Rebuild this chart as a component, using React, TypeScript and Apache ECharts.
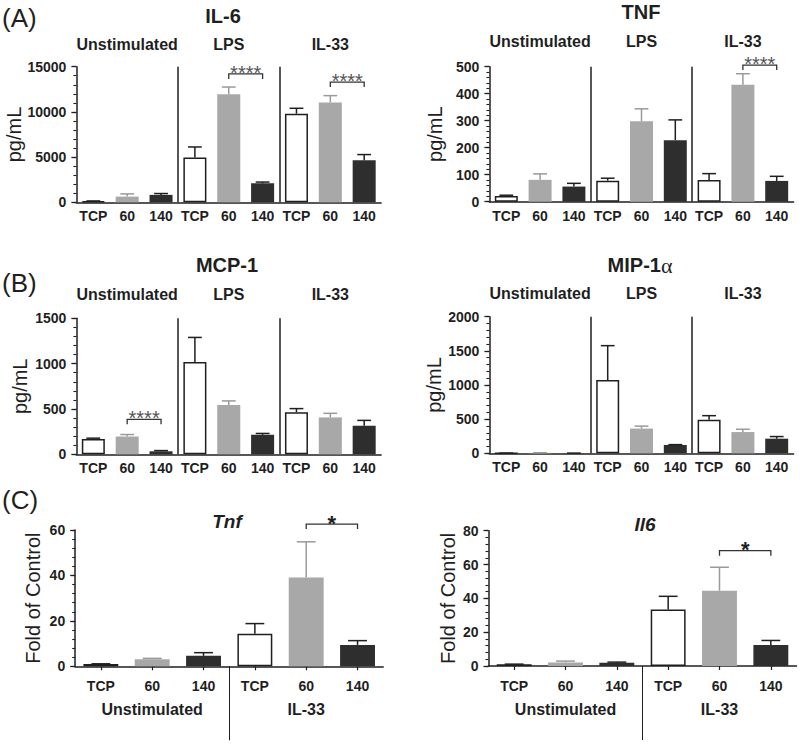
import React, { useEffect, useRef } from 'react';
import * as echarts from 'echarts';

const FONT = "'Liberation Sans', Arial, Helvetica, sans-serif";
const INK = '#1f1f1f';
const GREY = '#a8a8a8';
const BLACK = '#2e2e2e';

// ---------- categories / tick labels ----------
const barCategories = ['TCP', '60', '140', 'TCP', '60', '140', 'TCP', '60', '140'];
const stimGroups = ['Unstimulated', 'LPS', 'IL-33'];
const geneCategories = ['TCP', '60', '140', 'TCP', '60', '140'];
const geneGroups = ['Unstimulated', 'IL-33'];

// ---------- (A) cytokines, pg/mL : mean and mean+SD ----------
const il6Mean = [100, 630, 820, 4960, 11950, 2100, 9800, 11050, 4660];
const il6Err = [150, 930, 970, 6120, 12750, 2240, 10400, 11800, 5280];
const tnfMean = [21, 81, 56, 78, 298, 228, 80, 433, 77];
const tnfErr = [24, 103, 68, 87, 344, 303, 104, 474, 94];

// ---------- (B) chemokines, pg/mL ----------
const mcp1Mean = [170, 196, 33, 1019, 544, 215, 463, 407, 315];
const mcp1Err = [178, 218, 41, 1289, 589, 230, 504, 452, 374];
const mip1aMean = [2, 6, 2, 1073, 362, 122, 490, 311, 214];
const mip1aErr = [3, 8, 3, 1576, 398, 127, 551, 352, 245];

// ---------- (C) gene expression, fold of control ----------
const tnfGeneMean = [1.0, 3.1, 4.6, 14.3, 39.1, 9.4];
const tnfGeneErr = [1.1, 3.5, 6.0, 18.8, 54.8, 11.3];
const il6GeneMean = [1.0, 2.1, 1.9, 33.4, 44.5, 12.4];
const il6GeneErr = [1.1, 2.9, 2.3, 41.2, 58.4, 15.1];

// ---------- significance brackets: [from index, to index, height] ----------
const il6Sig = [[4, 5, 14200], [7, 8, 13300]];
const il6SigText = ['****', '****'];
const tnfSig = [[7, 8, 506]];
const tnfSigText = ['****'];
const mcp1Sig = [[1, 2, 386]];
const mcp1SigText = ['****'];
const mip1aSig: number[][] = [];
const mip1aSigText: string[] = [];
const tnfGeneSig = [[4, 5, 62.6]];
const tnfGeneSigText = ['*'];
const il6GeneSig = [[4, 5, 68.2]];
const il6GeneSigText = ['*'];

type Panel = {
  cats: string[];
  groups: string[];
  mean: number[];
  err: number[];
  sig: number[][];
  sigText: string[];
  max: number;
  interval: number;
  yName: string;
  nameGap: number;
  grid: { left: number; top: number; width: number; height: number };
  groupMargin: number;
  gene: boolean;
};

const panels: Panel[] = [
  { cats: barCategories, groups: stimGroups, mean: il6Mean, err: il6Err, sig: il6Sig, sigText: il6SigText, max: 15000, interval: 5000, yName: 'pg/mL', nameGap: 50, grid: { left: 76.4, top: 66.7, width: 304.7, height: 135.6 }, groupMargin: 14, gene: false },
  { cats: barCategories, groups: stimGroups, mean: tnfMean, err: tnfErr, sig: tnfSig, sigText: tnfSigText, max: 500, interval: 100, yName: 'pg/mL', nameGap: 44, grid: { left: 489.4, top: 66.7, width: 304.2, height: 135 }, groupMargin: 17, gene: false },
  { cats: barCategories, groups: stimGroups, mean: mcp1Mean, err: mcp1Err, sig: mcp1Sig, sigText: mcp1SigText, max: 1500, interval: 500, yName: 'pg/mL', nameGap: 46, grid: { left: 76.4, top: 318.3, width: 304.7, height: 136 }, groupMargin: 16, gene: false },
  { cats: barCategories, groups: stimGroups, mean: mip1aMean, err: mip1aErr, sig: mip1aSig, sigText: mip1aSigText, max: 2000, interval: 500, yName: 'pg/mL', nameGap: 44, grid: { left: 489.4, top: 316.7, width: 304.2, height: 136.6 }, groupMargin: 15, gene: false },
  { cats: geneCategories, groups: geneGroups, mean: tnfGeneMean, err: tnfGeneErr, sig: tnfGeneSig, sigText: tnfGeneSigText, max: 60, interval: 20, yName: 'Fold of Control', nameGap: 32, grid: { left: 75.2, top: 530, width: 308, height: 136.3 }, groupMargin: 35, gene: true },
  { cats: geneCategories, groups: geneGroups, mean: il6GeneMean, err: il6GeneErr, sig: il6GeneSig, sigText: il6GeneSigText, max: 80, interval: 20, yName: 'Fold of Control', nameGap: 31, grid: { left: 488.5, top: 530.7, width: 308, height: 135.3 }, groupMargin: 35, gene: true },
];

const fillFor = (i: number) => {
  const k = i % 3;
  if (k === 0) return { color: '#ffffff', borderColor: INK, borderWidth: 1.5 };
  if (k === 1) return { color: GREY, borderWidth: 0 };
  return { color: BLACK, borderWidth: 0 };
};

const errorRender = (ratio: number) => (params: any, api: any) => {
  const i = api.value(0);
  const top = api.coord([i, api.value(1)]);
  const tip = api.coord([i, api.value(2)]);
  const band = api.size([1, 0])[0];
  const half = band * 0.68 * ratio;
  const color = i % 3 === 1 ? '#9a9a9a' : INK;
  return {
    type: 'group',
    children: [
      { type: 'line', shape: { x1: top[0], y1: top[1], x2: tip[0], y2: tip[1] }, style: { stroke: color, lineWidth: 1.5 } },
      { type: 'line', shape: { x1: tip[0] - half, y1: tip[1], x2: tip[0] + half, y2: tip[1] }, style: { stroke: color, lineWidth: 1.5 } },
    ],
  };
};

const bracketRender = (labels: string[], gene: boolean) => (params: any, api: any) => {
  const y = api.value(2);
  const a = api.coord([api.value(0), y]);
  const b = api.coord([api.value(1), y]);
  const tick = 5;
  return {
    type: 'group',
    children: [
      {
        type: 'polyline',
        shape: { points: [[a[0], a[1] + tick], [a[0], a[1]], [b[0], b[1]], [b[0], b[1] + tick]] },
        style: { stroke: '#333333', lineWidth: 1.3, fill: 'none' },
      },
      {
        type: 'text',
        x: (a[0] + b[0]) / 2,
        y: a[1] - 1,
        style: {
          text: labels[params.dataIndex],
          textAlign: 'center',
          textVerticalAlign: 'middle',
          fontSize: gene ? 22 : 20,
          fontWeight: gene ? 'bold' : 'normal',
          fontFamily: FONT,
          fill: gene ? INK : '#555555',
        },
      },
    ],
  };
};

function buildOption() {
  const grid: any[] = [];
  const xAxis: any[] = [];
  const yAxis: any[] = [];
  const series: any[] = [];

  panels.forEach((p, g) => {
    grid.push({ ...p.grid, outerBoundsMode: 'none' });
    // main category axis
    xAxis.push({
      type: 'category',
      gridIndex: g,
      position: 'bottom',
      data: p.cats,
      axisLine: { onZero: false, lineStyle: { color: INK, width: 1.5 } },
      axisTick: p.gene
        ? { show: true, alignWithLabel: true, length: 4, lineStyle: { color: INK, width: 1.2 } }
        : { show: false },
      axisLabel: { interval: 0, margin: p.gene ? 13 : 7, fontSize: 14, fontWeight: 'bold', fontFamily: FONT, color: INK },
      splitLine: { show: false },
    });
    // group label axis
    xAxis.push({
      type: 'category',
      gridIndex: g,
      position: p.gene ? 'bottom' : 'top',
      data: p.groups,
      axisLine: { show: false, onZero: false },
      axisTick: { show: false },
      axisLabel: { interval: 0, margin: p.groupMargin, fontSize: 16, fontWeight: 'bold', fontFamily: FONT, color: INK },
      splitLine: { show: false },
    });
    // group separator axis
    if (p.gene) {
      xAxis.push({
        type: 'category',
        gridIndex: g,
        position: 'bottom',
        boundaryGap: false,
        data: ['', '', ''],
        axisLine: { show: false, onZero: false },
        axisTick: { show: true, interval: (i: number) => i === 1, length: 74, lineStyle: { color: INK, width: 1 } },
        axisLabel: { show: false },
        splitLine: { show: false },
      });
    } else {
      xAxis.push({
        type: 'category',
        gridIndex: g,
        position: 'bottom',
        boundaryGap: false,
        data: ['', '', '', ''],
        axisLine: { show: false, onZero: false },
        axisTick: { show: false },
        axisLabel: { show: false },
        splitLine: { show: true, interval: (i: number) => i === 1 || i === 2, lineStyle: { color: INK, width: 1.5 } },
      });
    }
    // main value axis (index 2g)
    yAxis.push({
      type: 'value',
      gridIndex: g,
      position: 'left',
      min: 0,
      max: p.max,
      interval: p.interval,
      name: p.yName,
      nameLocation: 'middle',
      nameGap: p.nameGap,
      nameTextStyle: { fontSize: 20, fontFamily: FONT, color: INK },
      axisLine: { show: true, onZero: false, lineStyle: { color: INK, width: 1.5 } },
      axisTick: { show: true, inside: false, length: 5, lineStyle: { color: INK, width: 1.3 } },
      splitLine: { show: false },
      axisLabel: {
        margin: 10, fontSize: 14, fontWeight: 'bold', fontFamily: FONT, color: INK,
        formatter: (v: number) => String(v),
      },
    });
    // minor tick axis (index 2g+1)
    yAxis.push({
      type: 'value',
      gridIndex: g,
      position: 'left',
      min: 0,
      max: p.max,
      interval: p.interval / 5,
      axisLine: { show: false, onZero: false },
      axisTick: { show: true, inside: false, length: 3, lineStyle: { color: INK, width: 1.1 } },
      axisLabel: { show: false },
      splitLine: { show: false },
    });

    series.push({
      type: 'bar',
      xAxisIndex: g * 3,
      yAxisIndex: g * 2,
      barWidth: '68%',
      data: p.mean.map((v, i) => ({ value: v, itemStyle: fillFor(i) })),
      z: 2,
    });
    series.push({
      type: 'custom',
      xAxisIndex: g * 3,
      yAxisIndex: g * 2,
      encode: { x: 0, y: 1 },
      data: p.mean.map((v, i) => [i, v, p.err[i]]),
      renderItem: errorRender(p.gene ? 0.27 : 0.3),
      z: 3,
    });
    if (p.sig.length) {
      series.push({
        type: 'custom',
        xAxisIndex: g * 3,
        yAxisIndex: g * 2,
        encode: { x: 0, y: 2 },
        data: p.sig,
        renderItem: bracketRender(p.sigText, p.gene),
        clip: false,
        z: 4,
      });
    }
  });

  const titleStyle = { fontSize: 20, fontWeight: 'bold', fontFamily: FONT, fill: INK, textAlign: 'center', textVerticalAlign: 'middle' };
  const panelLetter = { fontSize: 26, fontFamily: FONT, fill: INK, textAlign: 'left', textVerticalAlign: 'middle' };

  const graphic = [
    { type: 'text', x: 2, y: 18, style: { ...panelLetter, text: '(A)' } },
    { type: 'text', x: 2, y: 283, style: { ...panelLetter, text: '(B)' } },
    { type: 'text', x: 2, y: 500, style: { ...panelLetter, text: '(C)' } },
    { type: 'text', x: 223, y: 16, style: { ...titleStyle, text: 'IL-6' } },
    { type: 'text', x: 641, y: 12, style: { ...titleStyle, text: 'TNF' } },
    { type: 'text', x: 227, y: 265, style: { ...titleStyle, text: 'MCP-1' } },
    {
      type: 'text', x: 640, y: 265,
      style: {
        text: '{a|MIP-1}{b|α}', textAlign: 'center', textVerticalAlign: 'middle', fill: INK,
        rich: {
          a: { fontSize: 20, fontWeight: 'bold', fontFamily: FONT, color: INK },
          b: { fontSize: 22, fontFamily: "'Liberation Serif', 'DejaVu Serif', serif", color: INK },
        },
      },
    },
    { type: 'text', x: 227, y: 521, style: { ...titleStyle, fontStyle: 'italic', fontSize: 19, text: 'Tnf' } },
    { type: 'text', x: 645, y: 524, style: { ...titleStyle, fontStyle: 'italic', fontSize: 19, text: 'Il6' } },
  ];

  return {
    animation: false,
    backgroundColor: '#ffffff',
    grid,
    xAxis,
    yAxis,
    series,
    graphic,
  };
}

export default function App() {
  const ref = useRef<HTMLDivElement>(null);
  useEffect(() => {
    if (!ref.current) return;
    const chart = echarts.init(ref.current, null, { renderer: 'svg' });
    chart.setOption(buildOption() as any);
    return () => chart.dispose();
  }, []);
  return (
    <div
      ref={ref}
      style={{ position: 'fixed', left: 0, top: 0, width: 800, height: 745, background: '#ffffff' }}
    />
  );
}
